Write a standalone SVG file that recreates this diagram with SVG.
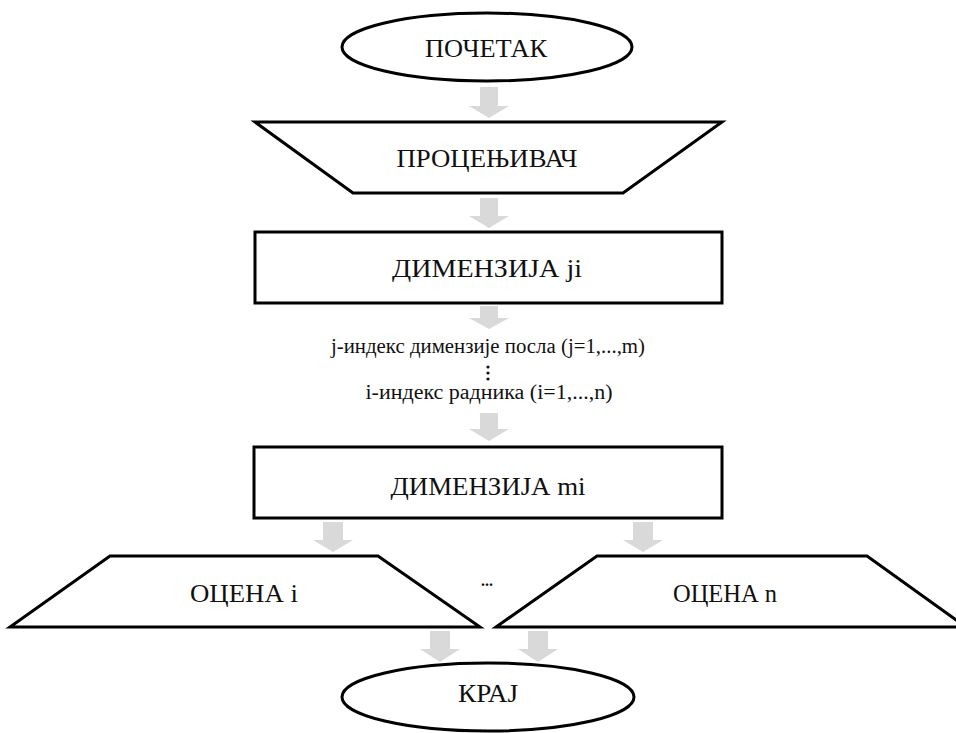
<svg xmlns="http://www.w3.org/2000/svg" width="956" height="733" viewBox="0 0 956 733">
<style>
.s{fill:#fff;stroke:#000;stroke-width:3}
.t{font-family:"Liberation Serif","Times New Roman","DejaVu Serif",serif;fill:#111;text-anchor:middle}
.b{font-size:26px}
.m{font-size:20px}
.a{fill:#d9d9d9;stroke:none}
</style>
<rect width="956" height="733" fill="#fff"/>
<g id="connectors">
<path class="a" d="M480,87H498V106H509L489,118L469,106H480Z"/>
<path class="a" d="M480,198H498V216H509L489,228L469,216H480Z"/>
<path class="a" d="M480,306H498V318H509L489,329L469,318H480Z"/>
<path class="a" d="M480,413H498V429H509L489,441L469,429H480Z"/>
<path class="a" d="M323,522H343V540H353L333,552L313,540H323Z"/>
<path class="a" d="M633,522H653V540H663L643,552L623,540H633Z"/>
<path class="a" d="M430,631H450V649H460L440,662L420,649H430Z"/>
<path class="a" d="M528,631H548V649H558L538,662L518,649H528Z"/>
</g>
<g id="start">
<ellipse class="s" cx="487" cy="47" rx="145" ry="34"/>
<text class="t b" x="486" y="57" textLength="122" lengthAdjust="spacingAndGlyphs">ПОЧЕТАК</text>
</g>
<g id="evaluator">
<polygon class="s" points="255,122 722,122 623,193 353,193"/>
<text class="t b" x="487" y="167" textLength="181" lengthAdjust="spacingAndGlyphs">ПРОЦЕЊИВАЧ</text>
</g>
<g id="dim-ji">
<rect class="s" x="255" y="232" width="467" height="71"/>
<text class="t b" x="487" y="277" textLength="190" lengthAdjust="spacingAndGlyphs">ДИМЕНЗИЈА ji</text>
</g>
<g id="indices">
<text class="t m" x="488" y="353" textLength="314" lengthAdjust="spacingAndGlyphs">j-индекс димензије посла (j=1,...,m)</text>
<circle cx="488" cy="367" r="1.6" fill="#111"/>
<circle cx="488" cy="373" r="1.6" fill="#111"/>
<circle cx="488" cy="379" r="1.6" fill="#111"/>
<text class="t m" x="489" y="399" textLength="247" lengthAdjust="spacingAndGlyphs">i-индекс радника (i=1,...,n)</text>
</g>
<g id="dim-mi">
<rect class="s" x="254" y="447" width="468" height="71"/>
<text class="t b" x="488" y="495" textLength="195" lengthAdjust="spacingAndGlyphs">ДИМЕНЗИЈА mi</text>
</g>
<g id="grade-i">
<polygon class="s" points="110,556 378,556 480,627 10,627"/>
<text class="t b" x="244" y="602" textLength="108" lengthAdjust="spacingAndGlyphs">ОЦЕНА i</text>
</g>
<g id="ellipsis">
<text class="t" x="487" y="586" style="font-size:16px;font-weight:bold">...</text>
</g>
<g id="grade-n">
<polygon class="s" points="597,556 867,556 966,627 496,627"/>
<text class="t b" x="725" y="602" textLength="104" lengthAdjust="spacingAndGlyphs">ОЦЕНА n</text>
</g>
<g id="end">
<ellipse class="s" cx="488" cy="697" rx="146" ry="34"/>
<text class="t b" x="488" y="702" textLength="60" lengthAdjust="spacingAndGlyphs">КРАЈ</text>
</g>
</svg>
